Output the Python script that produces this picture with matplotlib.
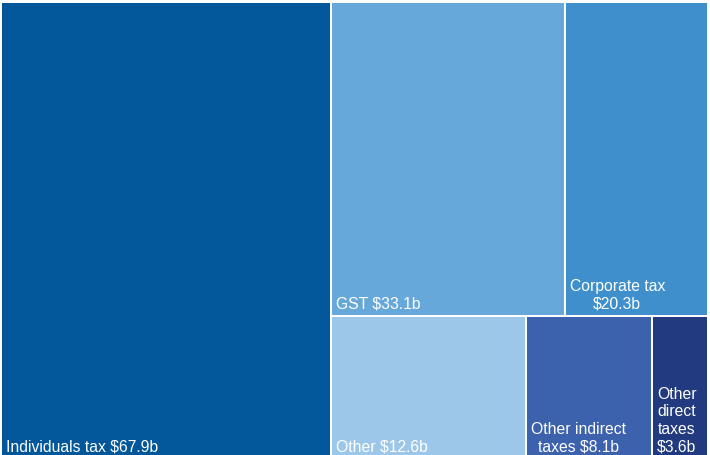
import matplotlib
matplotlib.use("Agg")
import matplotlib.pyplot as plt
from matplotlib.patches import Rectangle

# ---- data ----
categories = ["Individuals tax", "GST", "Corporate tax", "Other",
              "Other indirect taxes", "Other direct taxes"]
values = [67.9, 33.1, 20.3, 12.6, 8.1, 3.6]
labels = ["Individuals tax $67.9b", "GST $33.1b", "Corporate tax\n$20.3b",
          "Other $12.6b", "Other indirect\ntaxes $8.1b", "Other\ndirect\ntaxes\n$3.6b"]
colors = ["#02569A", "#67A8DA", "#3E8FCC", "#9DC7E9", "#3C62AE", "#213A80"]
# grouping of tiles: first group is a column, remaining groups are stacked rows
groups = [[0], [1, 2], [3, 4, 5]]

W, H = 707.0, 457.0  # layout units (pixels)


def layout(vals, grps, W, H):
    rects = {}
    remaining = sum(vals)
    x0, y0, w, h = 0.0, 0.0, W, H
    g = grps[0]
    s = sum(vals[i] for i in g)
    cw = w * s / remaining
    yy = y0
    for i in g:
        hh = h * vals[i] / s
        rects[i] = (x0, yy, cw, hh)
        yy += hh
    x0 += cw
    w -= cw
    remaining -= s
    for g in grps[1:]:
        s = sum(vals[i] for i in g)
        rh = h * s / remaining
        xx = x0
        for i in g:
            ww = w * vals[i] / s
            rects[i] = (xx, y0, ww, rh)
            xx += ww
        y0 += rh
        h -= rh
        remaining -= s
    return rects


fig = plt.figure(figsize=(7.1, 4.55), dpi=100, facecolor="white")
ax = fig.add_axes([1 / 710, (455 - 459) / 455, W / 710, H / 455])
ax.set_xlim(0, W)
ax.set_ylim(H, 0)
ax.axis("off")

rects = layout(values, groups, W, H)
for i, (x, y, w, h) in rects.items():
    ax.add_patch(Rectangle((x, y), w, h, facecolor=colors[i],
                           edgecolor="white", linewidth=1.44))
    ax.text(x + 5, y + h - 4.5, labels[i], color="white", fontsize=11.3,
            family="Liberation Sans", ha="left", va="bottom",
            multialignment="center", linespacing=1.22)

fig.savefig("out.png", dpi=100, facecolor="white")
